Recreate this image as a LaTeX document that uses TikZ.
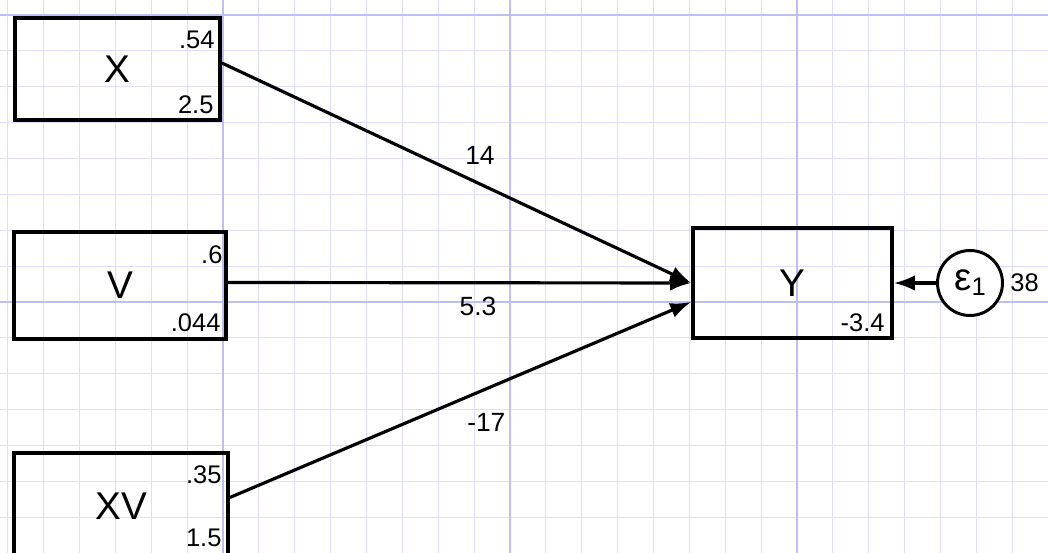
\documentclass[tikz,border=0pt]{standalone}
\usepackage{fontspec}
\setmainfont{Liberation Sans}
\usetikzlibrary{arrows.meta,positioning}

\definecolor{gridminor}{RGB}{222,222,252}
\definecolor{gridmajor}{RGB}{190,190,242}

\begin{document}
\begin{tikzpicture}[
    var/.style={draw, line width=2.1pt, rectangle, inner sep=0pt, font=\fontsize{22}{22}\selectfont},
    num/.style={inner sep=0pt, font=\fontsize{14.5}{14.5}\selectfont},
    elabel/.style={inner sep=0pt, font=\fontsize{15}{15}\selectfont},
    effect/.style={line width=1.8pt, -{Latex[length=4.2mm,width=3.1mm]}},
    minor/.style={gridminor, line width=0.6pt},
    major/.style={gridmajor, line width=0.8pt}
  ]
  \useasboundingbox (0,0) rectangle (20.96,11.06);

  % grid paper
  \begin{scope}
    \clip (0,0) rectangle (20.96,11.06);
    \foreach \i in {-6,...,23} {
      \pgfmathsetmacro\gx{4.46+\i*0.7175}
      \draw[minor] (\gx,0) -- (\gx,11.06);
    }
    \foreach \i in {-1,...,15} {
      \pgfmathsetmacro\gy{10.76-\i*0.7175}
      \draw[minor] (0,\gy) -- (20.96,\gy);
    }
    \foreach \gx in {4.46,10.20,15.94}
      \draw[major] (\gx,0) -- (\gx,11.06);
    \foreach \gy in {10.76,5.02}
      \draw[major] (0,\gy) -- (20.96,\gy);
  \end{scope}

  % observed variables
  \node[var, minimum width=4.1cm, minimum height=2.04cm] (X) at (2.35,9.68) {X};
  \node[num, anchor=north east] (Xmean) at ([shift={(-0.14,-0.28)}]X.north east) {.54};
  \node[num, anchor=south east] (Xvar) at ([shift={(-0.16,0.16)}]X.south east) {2.5};

  \node[var, minimum width=4.24cm, minimum height=2.14cm] (V) at (2.40,5.35) {V};
  \node[num, anchor=north east] (Vmean) at ([shift={(-0.10,-0.30)}]V.north east) {.6};
  \node[num, anchor=south east] (Vvar) at ([shift={(-0.14,0.18)}]V.south east) {.044};

  \node[var, minimum width=4.28cm, minimum height=2.14cm] (XV) at (2.42,0.93) {XV};
  \node[num, anchor=north east] (XVmean) at ([shift={(-0.16,-0.28)}]XV.north east) {.35};
  \node[num, anchor=south east] (XVvar) at ([shift={(-0.16,0.30)}]XV.south east) {1.5};

  \node[var, minimum width=3.98cm, minimum height=2.2cm] (Y) at (15.85,5.40) {Y};
  \node[num, anchor=south east] (Ycons) at ([shift={(-0.18,0.16)}]Y.south east) {-3.4};

  % error term
  \node[circle, draw, fill=white, line width=1.7pt, minimum size=1.3cm, inner sep=0pt,
        font=\fontsize{22}{22}\selectfont] (e1) at (19.40,5.40)
        {ε\raisebox{-0.1cm}{\fontsize{14.5}{14.5}\selectfont 1}};
  \node[num, anchor=west] (e1var) at ([xshift=0.12cm]e1.east) {38};

  % paths
  \draw[effect] ([yshift=0.12cm]X.east) -- (Y.west)
    node[elabel, pos=.55, above=0.35cm] (bX) {14};
  \draw[effect] ([yshift=0.06cm]V.east) -- (Y.west)
    node[elabel, pos=.54, below=0.26cm] (bV) {5.3};
  \draw[effect] ([yshift=0.18cm]XV.east) -- ([yshift=-0.38cm]Y.west)
    node[elabel, pos=.556, below=0.45cm] (bXV) {-17};
  \draw[effect] (e1) -- (Y.east);
\end{tikzpicture}
\end{document}
